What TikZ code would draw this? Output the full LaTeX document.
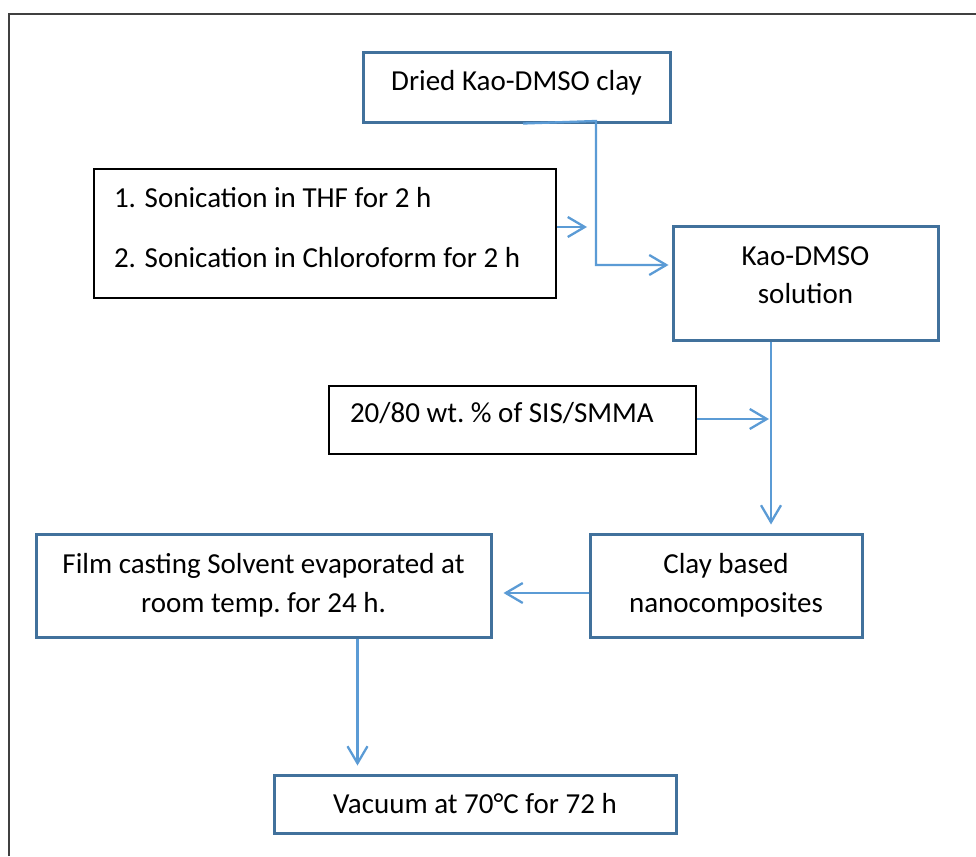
\documentclass[tikz,border=0pt]{standalone}
\usepackage{fontspec}
\setmainfont{Carlito}
\usetikzlibrary{arrows.meta,calc}
\definecolor{boxblue}{HTML}{41719C}
\definecolor{arrblue}{HTML}{5B9BD5}
\definecolor{framegray}{HTML}{404040}
\begin{document}
\begin{tikzpicture}[x=1pt,y=-1pt,
  bluebox/.style={draw=boxblue,line width=3pt,rectangle,inner sep=0pt,align=center},
  blackbox/.style={draw=black,line width=1.6pt,rectangle,inner ysep=0pt,align=flush left},
  conn/.style={draw=arrblue,line width=2.3pt,
    -{Straight Barb[length=17pt,width=20pt,line width=2.3pt]}},
  txt/.style={font=\fontsize{29}{38}\selectfont}]
\useasboundingbox (0,0) rectangle (976,856);
\draw[framegray,line width=1.6pt] (9,856) -- (9,14) -- (976,14);

\node[bluebox,txt,minimum width=307pt,minimum height=69pt,text depth=14pt] (box1) at (516.5,87.5) {Dried Kao-DMSO clay};
\node[blackbox,font=\fontsize{29}{60}\selectfont,minimum height=129pt,inner xsep=20pt,text width=422pt,text depth=72pt] (soni) at (325,233.5)
  {1. Sonication in THF for 2 h\\2. Sonication in Chloroform for 2 h};
\node[bluebox,font=\fontsize{29}{38}\selectfont,minimum width=265pt,minimum height=114pt,text depth=16pt] (kao) at (805.5,283) {Kao-DMSO\\solution};
\node[blackbox,txt,minimum height=68pt,inner xsep=21pt,text width=325pt,text depth=16pt] (sis) at (512.5,420) {20/80 wt.\ \% of SIS/SMMA};
\node[bluebox,font=\fontsize{29}{39}\selectfont,minimum width=272pt,minimum height=103pt] (clay) at (726,585.5) {Clay based\\nanocomposites};
\node[bluebox,font=\fontsize{29}{39}\selectfont,minimum width=455pt,minimum height=103pt] (film) at (263.5,585.5) {Film casting Solvent evaporated at\\room temp.\ for 24 h.};
\node[bluebox,txt,minimum width=402pt,minimum height=58pt] (vac) at (475,804) {Vacuum at 70°C for 72 h};

\coordinate (j1) at (596,121);
\coordinate (t1) at (587,227);
\coordinate (t2) at (769,419);

\draw[conn] ([xshift=6.5pt]box1.south) -- (j1) |- ([yshift=18pt,xshift=-3pt]kao.west);
\draw[conn] ([yshift=6.5pt]soni.east) -- (t1);
\draw[conn,shorten >=8pt] ([xshift=-34.5pt]kao.south) -- ([xshift=-34.5pt]kao.south |- clay.north);
\draw[conn] ([yshift=1pt]sis.east) -- (t2);
\draw[conn,shorten >=11pt] ([yshift=-7.5pt]clay.west) -- ([yshift=-7.5pt]clay.west -| film.east);
\draw[conn,shorten >=8pt] ([xshift=94pt]film.south) -- ([xshift=94pt]film.south |- vac.north);
\end{tikzpicture}
\end{document}
